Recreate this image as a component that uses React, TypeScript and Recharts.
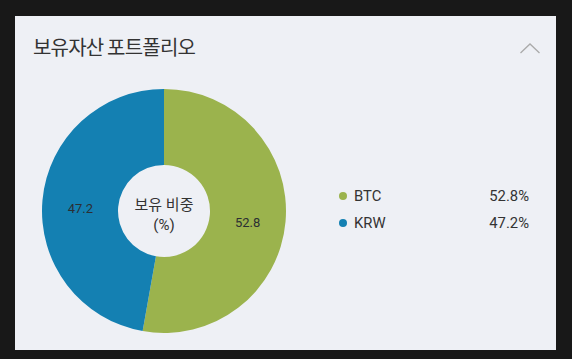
import { PieChart, Pie, Cell, Legend } from "recharts";

const assets = ["BTC", "KRW"];
const shares = [52.8, 47.2];
const colors = ["#9bb34d", "#1480b2"];

const data = assets.map((name, i) => ({ name, value: shares[i] }));

const FONT = "Roboto, 'Noto Sans CJK KR', sans-serif";
const RAD = Math.PI / 180;

document.body.style.margin = "0";

function SliceLabel(props: any) {
  const { cx, cy, midAngle, innerRadius, outerRadius, value, index } = props;
  const r = (innerRadius + outerRadius) / 2;
  const x = cx + r * Math.cos(-midAngle * RAD);
  const y = cy + r * Math.sin(-midAngle * RAD);
  return (
    <g>
      <text x={x} y={y + 4.5} textAnchor="middle" dominantBaseline="central" fill="#2b2f33" fontSize={13} fontFamily={FONT}>
        {value}
      </text>
      {index === 0 && (
        <g fontFamily={FONT} fontSize={15} fill="#333" textAnchor="middle">
          <text x={cx} y={cy - 1}>보유 비중</text>
          <text x={cx} y={cy + 19}>(%)</text>
        </g>
      )}
    </g>
  );
}

function LegendBox() {
  return (
    <div style={{ width: 190, fontFamily: FONT, fontSize: 14.8, color: "#333" }}>
      {data.map((d, i) => (
        <div key={d.name} style={{ display: "flex", alignItems: "center", height: 27 }}>
          <span style={{ width: 8, height: 8, borderRadius: 4, background: colors[i], marginRight: 7 }} />
          <span style={{ flex: 1 }}>{d.name}</span>
          <span>{d.value}%</span>
        </div>
      ))}
    </div>
  );
}

export default function App() {
  return (
    <div style={{ position: "relative", width: 572, height: 359, background: "#181818", overflow: "hidden" }}>
      <div style={{ position: "absolute", left: 15, top: 16, width: 541, height: 334, background: "#eef0f5" }}>
        <div style={{ position: "absolute", left: 18, top: 17, fontFamily: "'Noto Sans CJK KR', sans-serif", fontSize: 20, lineHeight: "28px", color: "#333", letterSpacing: -0.8 }}>
          보유자산 포트폴리오
        </div>
        <svg style={{ position: "absolute", left: 504, top: 25 }} width={22} height={14}>
          <polyline points="1.5,12 11,3 20.5,12" fill="none" stroke="#aaa" strokeWidth={1.3} />
        </svg>
        <PieChart width={541} height={334} margin={{ top: 0, right: 0, bottom: 0, left: 0 }}>
          <Pie
            data={data}
            dataKey="value"
            nameKey="name"
            cx={149}
            cy={195}
            innerRadius={46}
            outerRadius={122}
            startAngle={90}
            endAngle={-270}
            stroke="none"
            label={SliceLabel}
            labelLine={false}
            isAnimationActive={false}
          >
            {data.map((d, i) => (
              <Cell key={d.name} fill={colors[i]} />
            ))}
          </Pie>
          <Legend
            content={() => <LegendBox />}
            wrapperStyle={{ position: "absolute", left: 324, top: 166, width: 190 }}
          />
        </PieChart>
      </div>
    </div>
  );
}
